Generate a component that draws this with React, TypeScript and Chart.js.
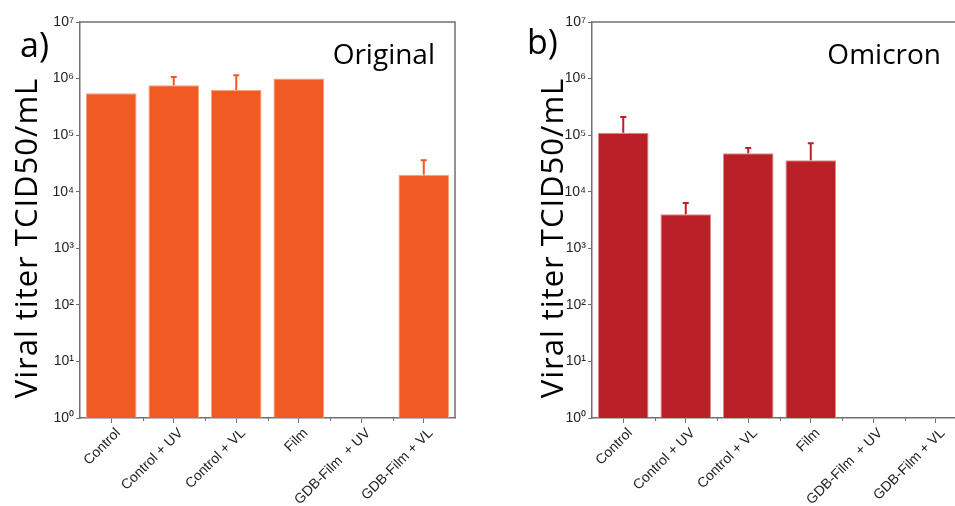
import React, { useEffect, useRef } from "react";
import { Chart, registerables } from "chart.js";
Chart.register(...registerables);

const categories = ["Control", "Control + UV", "Control + VL", "Film", "GDB-Film  + UV", "GDB-Film + VL"];
const originalValues = [5.5e5, 7.6e5, 6.3e5, 1.0e6, null, 2.0e4];
const originalErrTop = [null, 1.07e6, 1.15e6, null, null, 3.6e4];
const omicronValues = [1.1e5, 4.0e3, 4.8e4, 3.6e4, null, null];
const omicronErrTop = [2.1e5, 6.3e3, 5.9e4, 7.2e4, null, null];
const yTickValues = [1, 10, 100, 1e3, 1e4, 1e5, 1e6, 1e7];
const yTickLabels = ["10\u2070", "10\u00B9", "10\u00B2", "10\u00B3", "10\u2074", "10\u2075", "10\u2076", "10\u2077"];
const yAxisTitle = "Viral titer TCID50/mL";

type PanelProps = {
  values: (number | null)[];
  errTop: (number | null)[];
  color: string;
  edge: string;
  panelLabel: string;
  variant: string;
  left: number;
  width: number;
  areaLeft: number;
  areaRight: number;
  labelBaseline: number;
  labelX: number;
  variantRight: number;
  titleX: number;
  drawRightBorder: boolean;
};

const AXIS = "#707070";
const TEXT_FONT = "'Open Sans', Lato, sans-serif";

function Panel(p: PanelProps) {
  const ref = useRef<HTMLCanvasElement | null>(null);
  useEffect(() => {
    const canvas = ref.current!;
    const decor = {
      id: "decor",
      afterDatasetsDraw(chart: any) {
        const ctx = chart.ctx;
        const y = chart.scales.y;
        const meta = chart.getDatasetMeta(0);
        ctx.save();
        ctx.strokeStyle = p.color;
        ctx.lineWidth = 2;
        p.errTop.forEach((e, i) => {
          const v = p.values[i];
          if (e == null || v == null) return;
          const bar = meta.data[i];
          const x = bar.x;
          const y0 = y.getPixelForValue(v);
          const y1 = y.getPixelForValue(e);
          ctx.beginPath();
          ctx.moveTo(x, y0);
          ctx.lineTo(x, y1);
          ctx.moveTo(x - 3, y1);
          ctx.lineTo(x + 3, y1);
          ctx.stroke();
        });
        ctx.restore();
      },
      afterDraw(chart: any) {
        const ctx = chart.ctx;
        const a = chart.chartArea;
        ctx.save();
        ctx.strokeStyle = AXIS;
        ctx.lineWidth = 1.5;
        ctx.beginPath();
        ctx.moveTo(a.left, a.top);
        ctx.lineTo(a.right, a.top);
        if (p.drawRightBorder) ctx.lineTo(a.right, a.bottom);
        ctx.stroke();
        // minor ticks at category boundaries
        ctx.lineWidth = 1;
        const n = categories.length;
        const w = (a.right - a.left) / n;
        ctx.beginPath();
        for (let i = 1; i < n; i++) {
          const x = Math.round(a.left + i * w) + 0.5;
          ctx.moveTo(x, a.bottom);
          ctx.lineTo(x, a.bottom + 3);
        }
        ctx.stroke();
        // texts
        ctx.fillStyle = "#000";
        ctx.textBaseline = "alphabetic";
        ctx.font = "34px " + TEXT_FONT;
        ctx.textAlign = "left";
        ctx.fillText(p.panelLabel, p.labelX, p.labelBaseline);
        ctx.font = "28px " + TEXT_FONT;
        ctx.textAlign = "right";
        ctx.fillText(p.variant, p.variantRight, 64);
        ctx.save();
        ctx.translate(p.titleX, 238);
        ctx.rotate(-Math.PI / 2);
        ctx.font = "31px " + TEXT_FONT;
        (ctx as any).letterSpacing = "1px";
        ctx.textAlign = "center";
        ctx.textBaseline = "alphabetic";
        ctx.fillText(yAxisTitle, 0, 0);
        ctx.restore();
        ctx.restore();
      },
    };
    const chart = new Chart(canvas, {
      type: "bar",
      data: {
        labels: categories,
        datasets: [
          {
            data: p.values as any,
            backgroundColor: p.color,
            borderColor: p.edge,
            borderWidth: 1,
            categoryPercentage: 1,
            barPercentage: 0.81,
          },
        ],
      },
      options: {
        responsive: false,
        animation: false,
        layout: { padding: { top: 22, right: p.width - p.areaRight, left: 0, bottom: 0 } },
        plugins: { legend: { display: false }, tooltip: { enabled: false } },
        scales: {
          x: {
            grid: {
              offset: false,
              drawOnChartArea: false,
              drawTicks: true,
              tickLength: 5,
              color: AXIS,
              tickColor: AXIS,
            },
            border: { color: AXIS, width: 1.5 },
            ticks: {
              maxRotation: 45,
              minRotation: 45,
              autoSkip: false,
              padding: 2,
              labelOffset: 7,
              color: "#222",
              font: { family: "'Liberation Sans', Arial", size: 14 },
            },
            afterFit(scale: any) {
              scale.height = 88;
            },
          },
          y: {
            type: "logarithmic",
            min: 1,
            max: 1e7,
            grid: { drawOnChartArea: false, tickLength: 4, color: AXIS, tickColor: AXIS },
            border: { color: AXIS, width: 1.5 },
            afterBuildTicks(scale: any) {
              scale.ticks = yTickValues.map((v) => ({ value: v, major: true }));
            },
            ticks: {
              padding: 2,
              color: "#222",
              font: { family: "'Liberation Sans', Arial", size: 14 },
              callback: (v: any) => {
                const i = yTickValues.indexOf(Number(v));
                return i >= 0 ? yTickLabels[i] : "";
              },
            },
            afterFit(scale: any) {
              scale.width = p.areaLeft;
            },
          },
        },
      },
      plugins: [decor],
    });
    return () => chart.destroy();
  }, []);
  return (
    <canvas
      ref={ref}
      width={p.width}
      height={506}
      style={{ position: "absolute", left: p.left, top: 0, width: p.width, height: 506 }}
    />
  );
}

export default function App() {
  return (
    <div style={{ position: "absolute", left: 0, top: 0, width: 955, height: 506, overflow: "hidden", background: "#fff" }}>
      <Panel
        values={originalValues}
        errTop={originalErrTop}
        color="#F15A22"
        edge="#F8A27F"
        panelLabel="a)"
        variant="Original"
        left={0}
        width={480}
        areaLeft={80}
        areaRight={455}
        labelBaseline={57}
        labelX={20}
        variantRight={435}
        titleX={37}
        drawRightBorder={true}
      />
      <Panel
        values={omicronValues}
        errTop={omicronErrTop}
        color="#BA2126"
        edge="#DC8A8C"
        panelLabel="b)"
        variant="Omicron"
        left={480}
        width={500}
        areaLeft={112}
        areaRight={487}
        labelBaseline={54}
        labelX={47}
        variantRight={461}
        titleX={83}
        drawRightBorder={false}
      />
    </div>
  );
}
